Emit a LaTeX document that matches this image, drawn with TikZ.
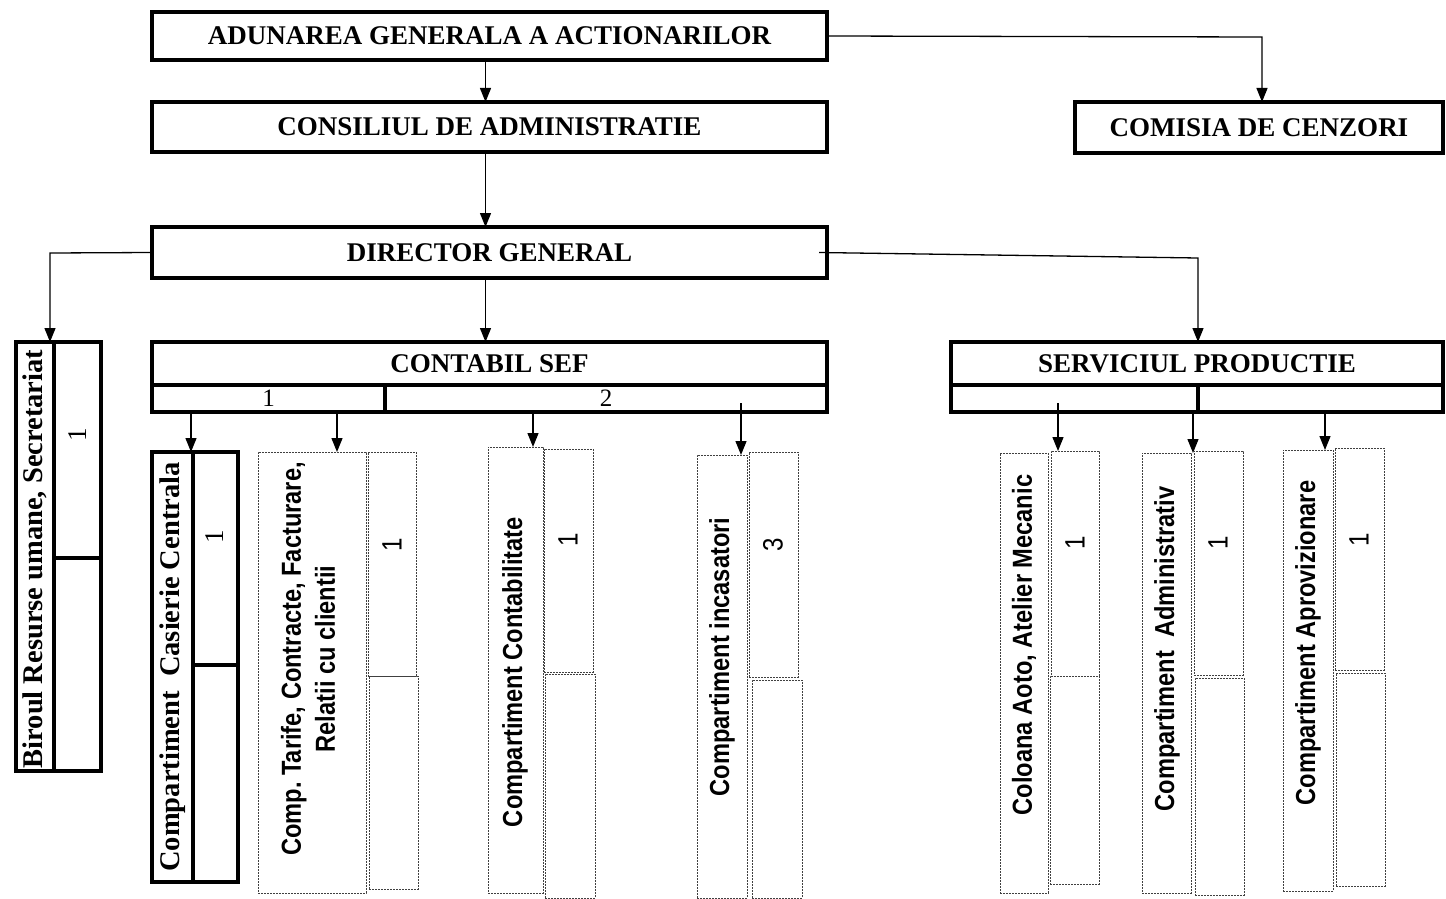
\documentclass[tikz,border=0pt]{standalone}
\usepackage{fontspec}
\setmainfont{Liberation Serif}
\newfontfamily\nsans[FakeStretch=0.86]{Liberation Sans}
\usetikzlibrary{arrows.meta}
\frenchspacing
\tikzset{
  x=1pt, y=-1pt,
  bbox/.style={draw, line width=3.6pt, anchor=north west, inner sep=0pt, outer sep=0pt},
  tbox/.style={draw=black!75, line width=0.9pt, dash pattern=on 2pt off 1pt, anchor=north west, inner sep=0pt, outer sep=0pt},
  head/.style={font=\bfseries\fontsize{27}{30}\selectfont},
  vserif/.style={rotate=90, inner sep=0pt, font=\bfseries\fontsize{28.5}{33}\selectfont},
  vsans/.style={rotate=90, inner sep=0pt, align=center, font=\nsans\bfseries\fontsize{27.5}{34}\selectfont},
  nserif/.style={rotate=90, inner sep=0pt, font=\fontsize{27}{30}\selectfont},
  nsans/.style={rotate=90, inner sep=0pt, font=\nsans\fontsize{28}{30}\selectfont},
  rownum/.style={font=\fontsize{25}{26}\selectfont},
  arr/.style={line width=1.3pt, -{Triangle[length=14pt,width=11pt]}},
  ln/.style={line width=1.3pt}
}
\begin{document}
\begin{tikzpicture}
\useasboundingbox (0,0) rectangle (1446,899);
% top level
\node[bbox, head, minimum width=675pt, minimum height=48pt] (adun) at (152,12) {ADUNAREA GENERALA A ACTIONARILOR};
\node[bbox, head, minimum width=675pt, minimum height=50pt] (cons) at (152,102) {CONSILIUL DE ADMINISTRATIE};
\node[bbox, head, minimum width=368pt, minimum height=51pt] (cenz) at (1075,102) {COMISIA DE CENZORI};
\node[bbox, head, minimum width=675pt, minimum height=51pt] (dir) at (152,227) {DIRECTOR GENERAL};
% contabil sef
\node[bbox, head, minimum width=675pt, minimum height=43pt] (csef) at (152,342) {CONTABIL SEF};
\node[bbox, rownum, minimum width=233pt, minimum height=27pt] (c1) at (152,385) {1};
\node[bbox, rownum, minimum width=442pt, minimum height=27pt] (c2) at (385,385) {2};
% serviciul productie
\node[bbox, head, minimum width=492pt, minimum height=43pt] (serv) at (951,342) {SERVICIUL PRODUCTIE};
\node[bbox, minimum width=247pt, minimum height=27pt] (s1) at (951,385) {};
\node[bbox, minimum width=245pt, minimum height=27pt] (s2) at (1198,385) {};
% birou
\node[bbox, minimum width=38pt, minimum height=429pt] (birT) at (16,342) {};
\node[bbox, minimum width=47pt, minimum height=216pt] (bir1) at (54,342) {};
\node[bbox, minimum width=47pt, minimum height=213pt] (bir2) at (54,558) {};
\node[vserif] (birL) at (35,559) {Biroul Resurse umane, Secretariat};
\node[nserif] (birN) at (78,435) {1};
% casierie
\node[bbox, minimum width=41pt, minimum height=430pt] (casT) at (152,452) {};
\node[bbox, minimum width=45pt, minimum height=213pt] (cas1) at (193,452) {};
\node[bbox, minimum width=45pt, minimum height=217pt] (cas2) at (193,665) {};
\node[vserif] (casL) at (172.5,667) {Compartiment\ \ Casierie Centrala};
\node[nserif] (casN) at (215,537) {1};
% tarife
\node[tbox, minimum width=108pt, minimum height=441pt] (tar) at (258,452) {};
\node[tbox, minimum width=48pt, minimum height=224pt] (tar1) at (368,452) {};
\node[tbox, minimum width=49pt, minimum height=213pt] (tar2) at (369,676) {};
\node[vsans] (tarL) at (308,659) {Comp. Tarife, Contracte, Facturare,\\Relatii cu clientii};
\node[nsans] (tarN) at (392,545) {1};
% contabilitate
\node[tbox, minimum width=55pt, minimum height=446pt] (cnt) at (488,447) {};
\node[tbox, minimum width=49pt, minimum height=223pt] (cnt1) at (544,449) {};
\node[tbox, minimum width=50pt, minimum height=224pt] (cnt2) at (545,674) {};
\node[vsans] (cntL) at (515,672) {Compartiment Contabilitate};
\node[nsans] (cntN) at (568,540) {1};
% incasatori
\node[tbox, minimum width=50pt, minimum height=443pt] (inc) at (697,455) {};
\node[tbox, minimum width=49pt, minimum height=225pt] (inc1) at (749,452) {};
\node[tbox, minimum width=50pt, minimum height=218pt] (inc2) at (752,680) {};
\node[vsans] (incL) at (722,657) {Compartiment incasatori};
\node[nsans] (incN) at (773,545) {3};
% coloana
\node[tbox, minimum width=48pt, minimum height=440pt] (col) at (1000,453) {};
\node[tbox, minimum width=48pt, minimum height=225pt] (col1) at (1051,451) {};
\node[tbox, minimum width=49pt, minimum height=208pt] (col2) at (1050,676) {};
\node[vsans] (colL) at (1024,645) {Coloana Aoto, Atelier Mecanic};
\node[nsans] (colN) at (1075,543) {1};
% administrativ
\node[tbox, minimum width=49pt, minimum height=440pt] (adm) at (1142,453) {};
\node[tbox, minimum width=49pt, minimum height=224pt] (adm1) at (1194,451) {};
\node[tbox, minimum width=49pt, minimum height=217pt] (adm2) at (1195,678) {};
\node[vsans] (admL) at (1167,649) {Compartiment\ \ Administrativ};
\node[nsans] (admN) at (1218,543) {1};
% aprovizionare
\node[tbox, minimum width=50pt, minimum height=441pt] (apr) at (1283,450) {};
\node[tbox, minimum width=49pt, minimum height=222pt] (apr1) at (1335,448) {};
\node[tbox, minimum width=49pt, minimum height=213pt] (apr2) at (1336,673) {};
\node[vsans] (aprL) at (1308,643) {Compartiment Aprovizionare};
\node[nsans] (aprN) at (1359,540) {1};
% connectors
\coordinate (k0) at (191,412);
\coordinate (k1) at (1262,37);
\coordinate (k2) at (50,253);
\coordinate (k3) at (1198,258);
\coordinate (k4) at (337,412);
\coordinate (k5) at (533,412);
\coordinate (k6) at (741,403);
\coordinate (k7) at (1058,403);
\coordinate (k8) at (1193,410);
\coordinate (k9) at (1325,410);
\draw[arr] ([xshift=-4pt]adun.south) -- ([xshift=-4pt]cons.north);
\draw[arr] (adun.east) -- (k1) -- (k1 |- cenz.north);
\draw[arr] ([xshift=-4pt]cons.south) -- ([xshift=-4pt]dir.north);
\draw[arr] (dir.west) -- (k2) -- (k2 |- birT.north);
\draw[arr] ([xshift=-8pt]dir.east) -- (k3) -- (k3 |- serv.north);
\draw[arr] ([xshift=-4pt]dir.south) -- ([xshift=-4pt]csef.north);
\draw[arr] (k0) -- (k0 |- casT.north);
\draw[arr] (k4) -- (k4 |- tar.north);
\draw[arr] (k5) -- (k5 |- cnt.north);
\draw[arr] (k6) -- (k6 |- inc.north);
\draw[arr] (k7) -- (k7 |- col1.north);
\draw[arr] (k8) -- (k8 |- adm.north);
\draw[arr] (k9) -- (k9 |- apr.north);
\end{tikzpicture}
\end{document}
